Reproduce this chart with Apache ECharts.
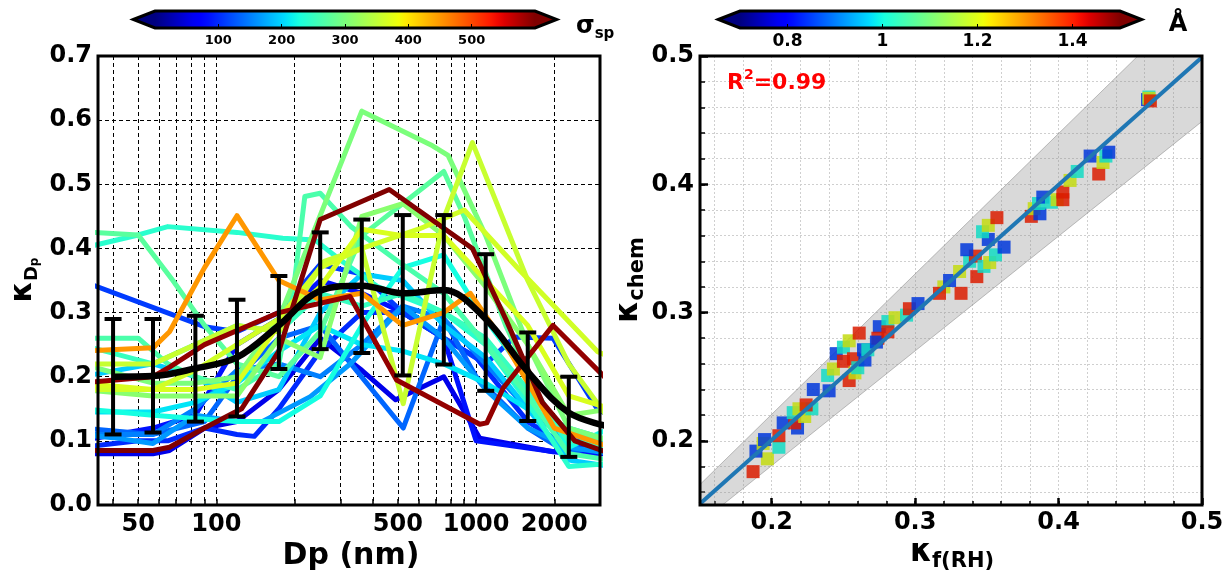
<!DOCTYPE html>
<html><head><meta charset="utf-8">
<script src="https://cdn.jsdelivr.net/npm/echarts@6/dist/echarts.min.js"></script>
<style>html,body{margin:0;padding:0;background:#fff}#c{width:1232px;height:576px}</style>
</head><body><div id="c"></div><script>
// ---------------- DATA ----------------
// Left panel: size-resolved kappa, one line per case, coloured by sigma_sp
const lineSigma = [600, 590, 450, 300, 355, 362, 265, 240, 275, 225, 165, 110, 55, 85, 135, 195, 368, 310, 250, 210, 100, 150];
const linePoints = [
  [[30,0.085],[57,0.085],[66,0.09],[90,0.12],[125,0.15],[174,0.24],[251,0.445],[463,0.492],[968,0.40],[1300,0.29],[1800,0.16],[2400,0.10],[3300,0.08]],
  [[30,0.19],[57,0.20],[66,0.215],[90,0.25],[174,0.30],[327,0.325],[494,0.195],[1033,0.126],[1100,0.128],[1270,0.182],[1978,0.28],[3300,0.19]],
  [[30,0.24],[57,0.245],[66,0.27],[90,0.37],[120,0.451],[174,0.35],[251,0.32],[363,0.33],[522,0.28],[751,0.30],[950,0.33],[1300,0.25],[2000,0.12],[3300,0.09]],
  [[30,0.22],[57,0.19],[83,0.19],[120,0.20],[174,0.29],[363,0.614],[680,0.56],[780,0.545],[1089,0.42],[1581,0.25],[2275,0.12],[3300,0.10]],
  [[30,0.22],[57,0.22],[83,0.25],[120,0.28],[174,0.27],[260,0.38],[363,0.40],[524,0.158],[751,0.447],[968,0.565],[1581,0.35],[2275,0.22],[3300,0.13]],
  [[30,0.18],[57,0.18],[83,0.21],[120,0.25],[174,0.29],[251,0.37],[363,0.40],[600,0.43],[900,0.46],[1472,0.366],[2940,0.239],[3300,0.23]],
  [[30,0.26],[50,0.26],[65,0.22],[83,0.20],[120,0.18],[174,0.22],[200,0.35],[219,0.481],[251,0.486],[330,0.434],[500,0.38],[751,0.33],[1089,0.25],[1581,0.17],[2275,0.08],[3300,0.07]],
  [[30,0.40],[50,0.421],[65,0.434],[120,0.425],[180,0.416],[240,0.413],[300,0.382],[420,0.34],[751,0.30],[1089,0.25],[1581,0.16],[2275,0.06],[3300,0.065]],
  [[30,0.426],[50,0.421],[68,0.35],[90,0.28],[120,0.22],[174,0.20],[251,0.27],[363,0.42],[751,0.52],[900,0.45],[1300,0.28],[2000,0.12],[3300,0.10]],
  [[30,0.15],[57,0.14],[83,0.135],[120,0.13],[174,0.13],[251,0.17],[363,0.28],[522,0.37],[751,0.39],[1000,0.31],[1581,0.20],[2275,0.09],[3300,0.12]],
  [[30,0.11],[40,0.105],[57,0.096],[83,0.14],[120,0.13],[150,0.13],[230,0.169],[330,0.221],[522,0.31],[751,0.26],[1089,0.18],[1581,0.12],[2275,0.09],[3300,0.08]],
  [[30,0.35],[90,0.278],[120,0.27],[174,0.30],[251,0.375],[363,0.36],[522,0.30],[751,0.26],[1089,0.22],[1410,0.262],[1978,0.26],[2950,0.148],[3300,0.14]],
  [[30,0.08],[57,0.08],[66,0.085],[90,0.12],[120,0.13],[174,0.18],[251,0.26],[363,0.21],[490,0.164],[751,0.20],[1033,0.104],[1978,0.083],[3300,0.09]],
  [[30,0.10],[57,0.12],[83,0.14],[120,0.25],[174,0.29],[251,0.35],[363,0.33],[522,0.30],[751,0.26],[1000,0.10],[2275,0.08],[3300,0.08]],
  [[30,0.12],[57,0.11],[90,0.13],[120,0.20],[174,0.26],[251,0.28],[330,0.22],[524,0.12],[751,0.29],[1000,0.20],[1581,0.12],[2275,0.08],[3300,0.10]],
  [[30,0.20],[57,0.22],[83,0.20],[120,0.16],[174,0.18],[251,0.30],[363,0.36],[522,0.35],[751,0.28],[1089,0.23],[1581,0.15],[2275,0.07],[3300,0.06]],
  [[30,0.19],[57,0.18],[83,0.18],[120,0.19],[174,0.28],[251,0.34],[363,0.43],[522,0.42],[751,0.42],[1089,0.35],[1581,0.28],[2275,0.17],[3300,0.15]],
  [[30,0.18],[57,0.17],[83,0.17],[120,0.17],[174,0.26],[251,0.23],[363,0.45],[522,0.47],[751,0.42],[1089,0.34],[1581,0.25],[2275,0.14],[3300,0.15]],
  [[30,0.25],[57,0.22],[83,0.25],[120,0.28],[174,0.27],[251,0.33],[363,0.31],[522,0.33],[751,0.30],[1089,0.26],[1581,0.18],[2275,0.10],[3300,0.09]],
  [[30,0.145],[57,0.145],[83,0.16],[120,0.19],[174,0.24],[251,0.28],[363,0.25],[522,0.24],[751,0.22],[1089,0.19],[1581,0.15],[2275,0.12],[3300,0.10]],
  [[30,0.09],[50,0.10],[65,0.10],[90,0.12],[120,0.11],[140,0.107],[174,0.15],[251,0.24],[363,0.30],[522,0.30],[751,0.26],[1000,0.23],[1581,0.13],[2275,0.09],[3300,0.09]],
  [[30,0.11],[57,0.11],[83,0.15],[120,0.21],[174,0.22],[251,0.20],[363,0.25],[522,0.31],[751,0.29],[1089,0.22],[1581,0.15],[2275,0.10],[3300,0.10]]
];
// mean kappa and its spread
const meanDp   = [40, 57, 83, 120, 174, 251, 363, 522, 751, 1089, 1581, 2275, 3290];
const meanK    = [0.200, 0.201, 0.213, 0.230, 0.280, 0.334, 0.342, 0.330, 0.335, 0.290, 0.208, 0.144, 0.122];
const errLow   = [0.110, 0.113, 0.130, 0.138, 0.212, 0.243, 0.237, 0.202, 0.219, 0.178, 0.131, 0.075];
const errHigh  = [0.290, 0.290, 0.295, 0.320, 0.357, 0.425, 0.445, 0.452, 0.452, 0.391, 0.269, 0.200];
const dpTickVals  = [40,50,60,70,80,90,100,200,300,400,500,600,700,800,900,1000,2000];
const dpLabelVals = [50,100,500,1000,2000];

// Right panel: kappa_f(RH) vs kappa_chem, coloured by Angstrom exponent
const kappaF    = [0.187,0.197,0.189,0.205,0.205,0.194,0.195,0.208,0.218,0.216,0.215,0.219,0.223,0.228,0.224,0.229,0.240,0.239,0.243,0.245,0.250,0.254,0.261,0.250,0.257,0.254,0.258,0.260,0.265,0.264,0.267,0.275,0.281,0.274,0.273,0.286,0.294,0.296,0.302,0.281,0.320,0.317,
                   0.332,0.324,0.331,0.338,0.343,0.342,0.336,0.348,0.352,0.356,0.362,0.351,0.347,0.351,0.357,0.381,0.383,0.387,0.386,0.389,0.395,0.399,0.403,0.403,0.408,0.413,0.422,0.428,0.431,0.433,0.435,0.462,0.463,0.463,0.464];
const kappaChem = [0.176,0.186,0.192,0.195,0.204,0.198,0.201,0.214,0.210,0.214,0.222,0.225,0.219,0.225,0.228,0.240,0.239,0.251,0.256,0.268,0.273,0.278,0.284,0.262,0.264,0.247,0.253,0.257,0.263,0.271,0.271,0.289,0.293,0.280,0.277,0.296,0.298,0.303,0.307,0.285,0.320,0.315,
                   0.315,0.325,0.332,0.340,0.328,0.344,0.349,0.336,0.339,0.345,0.351,0.357,0.363,0.368,0.374,0.375,0.381,0.377,0.385,0.390,0.386,0.388,0.388,0.394,0.403,0.410,0.422,0.408,0.417,0.422,0.425,0.466,0.468,0.467,0.465];
const angstrom  = [1.4,1.2,0.85,1.0,1.4,1.2,0.85,0.85,0.85,1.4,1.0,1.2,1.2,1.0,1.4,0.85,0.85,1.0,1.2,0.85,1.0,1.2,1.4,1.4,1.4,1.4,1.2,1.0,0.85,0.85,1.0,0.85,1.0,1.4,0.85,1.2,1.0,1.4,0.85,1.4,1.2,1.4,
                   1.4,0.85,1.2,1.0,1.4,1.4,0.85,1.0,1.2,1.0,0.85,0.85,1.0,1.2,1.4,1.4,1.2,0.85,1.0,0.85,1.0,1.2,1.4,1.4,1.2,1.0,0.85,1.4,1.2,1.0,0.85,0.85,1.0,1.2,1.4];
const fitLine   = [[0.15, 0.151], [0.5, 0.499]];
const bandUpper = [[0.15, 0.166], [0.5, 0.549]];
const bandLower = [[0.15, 0.136], [0.5, 0.449]];
const kTicksMinor = [0.16,0.18,0.2,0.22,0.24,0.26,0.28,0.3,0.32,0.34,0.36,0.38,0.4,0.42,0.44,0.46,0.48,0.5];
const kTicksMajor = [0.2,0.3,0.4,0.5];

// colour bars
const sigmaRange = [0, 600];
const sigmaTicks = [100, 200, 300, 400, 500];
const angRange = [0.7, 1.5];
const angTicks = [0.8, 1.0, 1.2, 1.4];

// ---------------- STYLE HELPERS ----------------
const FONT = 'DejaVu Sans';
const jetSeg = {
  r: [[0,0],[0.35,0],[0.66,1],[0.89,1],[1,0.5]],
  g: [[0,0],[0.125,0],[0.375,1],[0.64,1],[0.91,0],[1,0]],
  b: [[0,0.5],[0.11,1],[0.34,1],[0.65,0],[1,0]]
};
function segv(arr, t) {
  for (let i = 1; i < arr.length; i++) {
    if (t <= arr[i][0]) {
      const x0 = arr[i-1][0], y0 = arr[i-1][1], x1 = arr[i][0], y1 = arr[i][1];
      return x1 === x0 ? y1 : y0 + (y1 - y0) * (t - x0) / (x1 - x0);
    }
  }
  return arr[arr.length-1][1];
}
function jet(t, k) {
  k = k || 1;
  t = Math.max(0, Math.min(1, t));
  const r = Math.round(255 * k * segv(jetSeg.r, t));
  const g = Math.round(255 * k * segv(jetSeg.g, t));
  const b = Math.round(255 * k * segv(jetSeg.b, t));
  return 'rgb(' + r + ',' + g + ',' + b + ')';
}
const sigmaColor = s => jet((s - sigmaRange[0]) / (sigmaRange[1] - sigmaRange[0]));
const angColor = a => jet((a - angRange[0]) / (angRange[1] - angRange[0]), 0.86);

function colorbarRender(range) {
  return function (params, api) {
    const lo = range[0], hi = range[1], e = (hi - lo) * 0.057;
    const pTL = api.coord([lo, 1]), pBR = api.coord([hi, 0]);
    const tipL = api.coord([lo - e, 0.5]), tipR = api.coord([hi + e, 0.5]);
    const stops = [];
    for (let i = 0; i <= 50; i++) stops.push({ offset: i / 50, color: jet(i / 50) });
    return { type: 'group', children: [
      { type: 'rect', shape: { x: pTL[0], y: pTL[1], width: pBR[0] - pTL[0], height: pBR[1] - pTL[1] },
        style: { fill: { type: 'linear', x: 0, y: 0, x2: 1, y2: 0, colorStops: stops } } },
      { type: 'polygon', shape: { points: [tipL, [pTL[0] + 0.5, pTL[1]], [pTL[0] + 0.5, pBR[1]]] }, style: { fill: jet(0) } },
      { type: 'polygon', shape: { points: [tipR, [pBR[0] - 0.5, pTL[1]], [pBR[0] - 0.5, pBR[1]]] }, style: { fill: jet(1) } },
      { type: 'polygon', shape: { points: [tipL, [pTL[0], pTL[1]], [pBR[0], pTL[1]], tipR, [pBR[0], pBR[1]], [pTL[0], pBR[1]]] },
        style: { fill: null, stroke: '#000', lineWidth: 3, lineJoin: 'miter' } }
    ]};
  };
}

const boldLabel = (size) => ({ fontFamily: FONT, fontWeight: 'bold', fontSize: size, color: '#000' });

// ---------------- SERIES ----------------
const series = [];
const order = lineSigma.map((s, i) => i).sort((a, b) => lineSigma[a] - lineSigma[b]);
order.forEach((i) => {
  series.push({
    type: 'line', xAxisIndex: 0, yAxisIndex: 0, data: linePoints[i],
    showSymbol: false, symbol: 'none', clip: true, z: 2,
    lineStyle: { color: sigmaColor(lineSigma[i]), width: 5, join: 'round' }, silent: true
  });
});
series.push({
  type: 'line', xAxisIndex: 0, yAxisIndex: 0, data: meanDp.map((d, i) => [d, meanK[i]]),
  showSymbol: false, symbol: 'none', smooth: 0.35, clip: true, z: 5,
  lineStyle: { color: '#000', width: 6.5 }, silent: true
});
series.push({
  type: 'custom', xAxisIndex: 0, yAxisIndex: 0, z: 6, clip: true,
  data: errLow.map((l, i) => [meanDp[i], l, errHigh[i]]),
  encode: { x: 0, y: [1, 2] },
  renderItem: function (params, api) {
    const x = api.value(0);
    const pL = api.coord([x, api.value(1)]), pH = api.coord([x, api.value(2)]);
    const w = 8.5, st = { stroke: '#000', lineWidth: 4 };
    return { type: 'group', children: [
      { type: 'line', shape: { x1: pL[0], y1: pL[1], x2: pH[0], y2: pH[1] }, style: st },
      { type: 'line', shape: { x1: pL[0] - w, y1: pL[1], x2: pL[0] + w, y2: pL[1] }, style: st },
      { type: 'line', shape: { x1: pH[0] - w, y1: pH[1], x2: pH[0] + w, y2: pH[1] }, style: st }
    ]};
  }
});
// right panel
series.push({
  type: 'custom', xAxisIndex: 1, yAxisIndex: 1, z: 2, clip: true, silent: true,
  data: [[bandUpper[0][0], bandUpper[0][1]]],
  renderItem: function (params, api) {
    const pts = bandUpper.map(p => api.coord(p)).concat(bandLower.slice().reverse().map(p => api.coord(p)));
    return { type: 'polygon', shape: { points: pts },
      style: { fill: 'rgba(140,140,140,0.33)', stroke: 'rgba(120,120,120,0.45)', lineWidth: 1 } };
  }
});
series.push({
  type: 'scatter', xAxisIndex: 1, yAxisIndex: 1, z: 3, symbol: 'rect', symbolSize: 13,
  data: kappaF.map((x, i) => [x, kappaChem[i], angstrom[i]]),
  itemStyle: { opacity: 0.85, color: p => angColor(p.value[2]) }, silent: true
});
series.push({
  type: 'line', xAxisIndex: 1, yAxisIndex: 1, z: 4, data: fitLine, symbol: 'none', showSymbol: false,
  lineStyle: { color: '#1f77b4', width: 4 }, silent: true
});
// colour bars
series.push({ type: 'custom', xAxisIndex: 3, yAxisIndex: 3, z: 2, silent: true,
  data: [[sigmaRange[0], 0]], renderItem: colorbarRender(sigmaRange) });
series.push({ type: 'custom', xAxisIndex: 4, yAxisIndex: 4, z: 2, silent: true,
  data: [[angRange[0], 0]], renderItem: colorbarRender(angRange) });

// ---------------- OPTION ----------------
const option = {
  animation: false,
  backgroundColor: '#fff',
  grid: [
    { left: 98, top: 56, width: 502, height: 449, show: true, borderColor: '#000', borderWidth: 3, backgroundColor: 'transparent', z: 10 },
    { left: 700, top: 56, width: 502, height: 449, show: true, borderColor: '#000', borderWidth: 3, backgroundColor: 'transparent', z: 10 },
    { left: 155, top: 11, width: 380, height: 17, show: false },
    { left: 740, top: 11, width: 380, height: 17, show: false }
  ],
  xAxis: [
    { gridIndex: 0, type: 'log', logBase: 10, min: 35, max: 3000,
      axisLine: { show: false },
      axisTick: { show: true, inside: true, length: 6, customValues: dpTickVals, lineStyle: { color: '#000', width: 1.5 } },
      axisLabel: Object.assign(boldLabel(24), { customValues: dpLabelVals, margin: 8, formatter: v => String(Math.round(v)) }),
      splitLine: { show: true, lineStyle: { color: '#000', width: 1, type: [4, 3] } },
      minorTick: { show: false }, minorSplitLine: { show: false } },
    { gridIndex: 1, type: 'value', min: 0.15, max: 0.5,
      axisLine: { show: false },
      axisTick: { show: true, inside: true, length: 4, customValues: kTicksMinor, lineStyle: { color: '#000', width: 1.5 } },
      axisLabel: Object.assign(boldLabel(24), { customValues: kTicksMajor, margin: 6, formatter: v => v.toFixed(1) }),
      splitLine: { show: true, lineStyle: { color: '#cfcfcf', width: 1, type: [2, 2] } } },
    { gridIndex: 1, type: 'value', min: 0.15, max: 0.5, position: 'bottom',
      axisLine: { show: false }, axisLabel: { show: false }, splitLine: { show: false },
      axisTick: { show: true, inside: true, length: 7, customValues: kTicksMajor, lineStyle: { color: '#000', width: 2.5 } } },
    { gridIndex: 2, type: 'value', min: sigmaRange[0], max: sigmaRange[1], z: 10,
      axisLine: { show: false }, splitLine: { show: false },
      axisTick: { show: true, inside: true, length: 4, customValues: sigmaTicks, lineStyle: { color: '#000', width: 1 } },
      axisLabel: Object.assign(boldLabel(13), { customValues: sigmaTicks, margin: 6 }) },
    { gridIndex: 3, type: 'value', min: angRange[0], max: angRange[1], z: 10,
      axisLine: { show: false }, splitLine: { show: false },
      axisTick: { show: true, inside: true, length: 4, customValues: angTicks, lineStyle: { color: '#000', width: 1 } },
      axisLabel: Object.assign(boldLabel(17), { customValues: angTicks, margin: 5, formatter: v => String(+v.toFixed(1)) }) }
  ],
  yAxis: [
    { gridIndex: 0, type: 'value', min: 0, max: 0.7, interval: 0.1,
      axisLine: { show: false }, axisTick: { show: false },
      axisLabel: Object.assign(boldLabel(24), { margin: 6, formatter: v => v.toFixed(1) }),
      splitLine: { show: true, lineStyle: { color: '#000', width: 1, type: [4, 3] } } },
    { gridIndex: 1, type: 'value', min: 0.15, max: 0.5,
      axisLine: { show: false },
      axisTick: { show: true, inside: true, length: 5, customValues: kTicksMinor, lineStyle: { color: '#000', width: 1.5 } },
      axisLabel: Object.assign(boldLabel(24), { customValues: kTicksMajor, margin: 6, formatter: v => v.toFixed(1) }),
      splitLine: { show: true, lineStyle: { color: '#cfcfcf', width: 1, type: [2, 2] } } },
    { gridIndex: 1, type: 'value', min: 0.15, max: 0.5, position: 'left',
      axisLine: { show: false }, axisLabel: { show: false }, splitLine: { show: false },
      axisTick: { show: true, inside: true, length: 8, customValues: kTicksMajor, lineStyle: { color: '#000', width: 2.5 } } },
    { gridIndex: 2, type: 'value', min: 0, max: 1, show: false },
    { gridIndex: 3, type: 'value', min: 0, max: 1, show: false }
  ],
  graphic: [
    { type: 'text', x: 23, y: 280, rotation: Math.PI / 2, z: 100,
      style: { text: '{a|κ}{b|D}{c|p}', align: 'center', verticalAlign: 'middle',
        rich: { a: { fontFamily: FONT, fontWeight: 'bold', fontSize: 30, lineHeight: 36, fill: '#000' },
                b: { fontFamily: FONT, fontWeight: 'bold', fontSize: 18, verticalAlign: 'bottom', lineHeight: 20, fill: '#000' },
                c: { fontFamily: FONT, fontWeight: 'bold', fontSize: 12, verticalAlign: 'bottom', lineHeight: 12, fill: '#000' } } } },
    { type: 'text', x: 351, y: 556, z: 100,
      style: { text: 'Dp (nm)', align: 'center', verticalAlign: 'middle', fontFamily: FONT, fontWeight: 'bold', fontSize: 30, fill: '#000' } },
    { type: 'text', x: 629, y: 280, rotation: Math.PI / 2, z: 100,
      style: { text: '{a|κ}{b|chem}', align: 'center', verticalAlign: 'middle',
        rich: { a: { fontFamily: FONT, fontWeight: 'bold', fontSize: 31, lineHeight: 38, fill: '#000' },
                b: { fontFamily: FONT, fontWeight: 'bold', fontSize: 21, verticalAlign: 'bottom', lineHeight: 24, fill: '#000' } } } },
    { type: 'text', x: 952, y: 553, z: 100,
      style: { text: '{a|κ}{b|f(RH)}', align: 'center', verticalAlign: 'middle',
        rich: { a: { fontFamily: FONT, fontWeight: 'bold', fontSize: 31, lineHeight: 38, fill: '#000' },
                b: { fontFamily: FONT, fontWeight: 'bold', fontSize: 21, verticalAlign: 'bottom', lineHeight: 24, fill: '#000' } } } },
    { type: 'text', x: 727, y: 83, z: 100,
      style: { text: '{a|R}{b|2}{a|=0.99}', align: 'left', verticalAlign: 'middle',
        rich: { a: { fontFamily: FONT, fontWeight: 'bold', fontSize: 22, lineHeight: 30, fill: '#ff0000' },
                b: { fontFamily: FONT, fontWeight: 'bold', fontSize: 14, verticalAlign: 'top', lineHeight: 16, fill: '#ff0000' } } } },
    { type: 'text', x: 576, y: 27, z: 100,
      style: { text: '{a|σ}{b|sp}', align: 'left', verticalAlign: 'middle',
        rich: { a: { fontFamily: FONT, fontWeight: 'bold', fontSize: 24, lineHeight: 30, fill: '#000' },
                b: { fontFamily: FONT, fontWeight: 'bold', fontSize: 15, verticalAlign: 'bottom', lineHeight: 18, fill: '#000' } } } },
    { type: 'text', x: 1178, y: 25, z: 100,
      style: { text: 'Å', align: 'center', verticalAlign: 'middle', fontFamily: FONT, fontWeight: 'bold', fontSize: 24, fill: '#000' } }
  ],
  series: series
};
const chart = echarts.init(document.getElementById('c'), null, { renderer: 'canvas' });
chart.setOption(option);
</script></body></html>
